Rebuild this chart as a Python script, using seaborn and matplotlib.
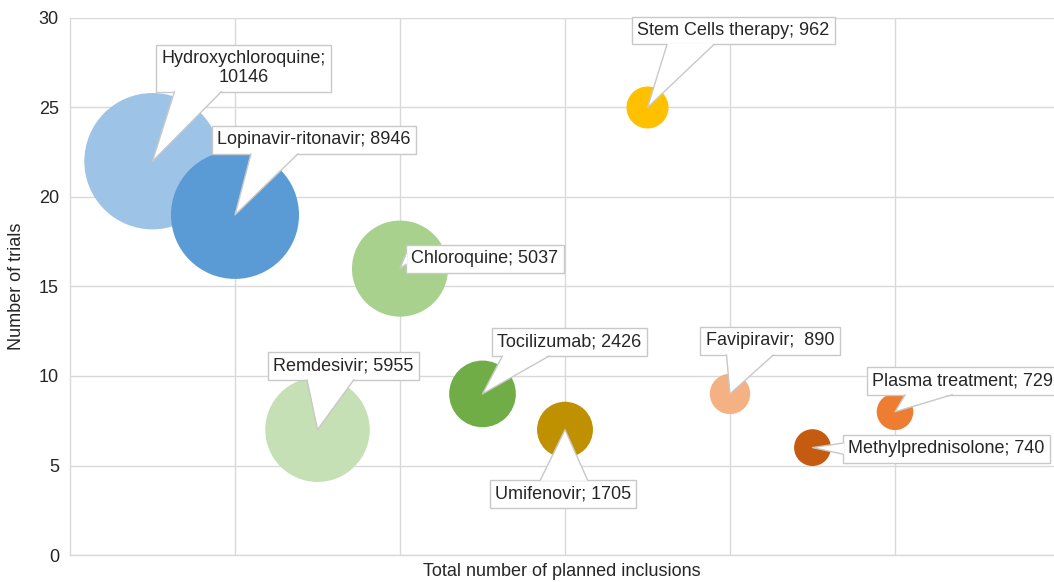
import matplotlib
matplotlib.use("Agg")
import matplotlib.pyplot as plt
from matplotlib.patches import Polygon
from matplotlib.lines import Line2D
import seaborn as sns
import pandas as pd

# values
drugs = ["Hydroxychloroquine", "Lopinavir-ritonavir", "Remdesivir", "Chloroquine",
         "Tocilizumab", "Umifenovir", "Stem Cells therapy", "Favipiravir",
         "Methylprednisolone", "Plasma treatment"]
position = [1, 2, 3, 4, 5, 6, 7, 8, 9, 10]
trials = [22, 19, 7, 16, 9, 7, 25, 9, 6, 8]
inclusions = [10146, 8946, 5955, 5037, 2426, 1705, 962, 890, 740, 729]
label_text = ["Hydroxychloroquine;\n10146", "Lopinavir-ritonavir; 8946", "Remdesivir; 5955",
              "Chloroquine; 5037", "Tocilizumab; 2426", "Umifenovir; 1705",
              "Stem Cells therapy; 962", "Favipiravir;  890", "Methylprednisolone; 740",
              "Plasma treatment; 729"]

colors = ["#9DC3E6", "#5B9BD5", "#C5E0B4", "#A9D18E", "#70AD47",
          "#BF9000", "#FFC000", "#F4B183", "#C55A11", "#ED7D31"]

# label placement (offset in pixels from the bubble, alignment)
offsets = [(91, 93), (79, 75), (26, 64), (85, 10), (87, 52),
           (-2, -64), (86, 77), (40, 53), (36, -1), (-23, 31)]
aligns = ["center"] * 8 + ["left", "left"]

TEXT = "#262626"
EDGE = "#C8C8C8"

df = pd.DataFrame({"drug": drugs, "x": position, "trials": trials, "n": inclusions})

sns.set_style("white")
plt.rcParams["font.family"] = ["Liberation Sans", "DejaVu Sans"]

fig = plt.figure(figsize=(10.54, 5.82), dpi=100)
ax = fig.add_axes([70 / 1054, 27 / 582, 1 - 70 / 1054, (555 - 18) / 582])

k = 0.95
sns.scatterplot(data=df, x="x", y="trials", hue="drug", size="n",
                palette=dict(zip(drugs, colors)),
                sizes=(min(inclusions) * k, max(inclusions) * k),
                linewidth=0, alpha=1, legend=False, ax=ax)

ax.set_xlim(0, 984 / 82.5)
ax.set_ylim(0, 30)
ax.set_xticks([2, 4, 6, 8, 10])
ax.set_xticklabels([])
ax.set_yticks([0, 5, 10, 15, 20, 25, 30])
ax.tick_params(axis="both", length=0, labelsize=13, labelcolor=TEXT, pad=8)
ax.grid(True, color="#D9D9D9", lw=1)
ax.set_axisbelow(True)
for side in ["top", "right"]:
    ax.spines[side].set_visible(False)
for side in ["left", "bottom"]:
    ax.spines[side].set_color("#D9D9D9")
    ax.spines[side].set_linewidth(1)

ax.set_xlabel("Total number of planned inclusions", fontsize=13, color=TEXT)
ax.xaxis.label.set_va("center")
ax.xaxis.set_label_coords(0.5, -16 / 537)
ax.set_ylabel("Number of trials", fontsize=13, color=TEXT, labelpad=10)

labels = []
for i in range(len(drugs)):
    dx, dy = offsets[i]
    t = ax.annotate(label_text[i], xy=(position[i], trials[i]),
                    xytext=(dx, dy), textcoords="offset pixels",
                    ha=aligns[i], va="center", fontsize=13, color=TEXT,
                    linespacing=1.15, zorder=4, annotation_clip=False,
                    bbox=dict(boxstyle="square,pad=0.3", fc="white", ec=EDGE, lw=1))
    labels.append(t)

# callout pointers: triangle from the label box edge to the bubble centre
fig.canvas.draw()
renderer = fig.canvas.get_renderer()
inv = ax.transData.inverted()
for i, t in enumerate(labels):
    bb = t.get_bbox_patch().get_window_extent(renderer)
    tx, ty = ax.transData.transform((position[i], trials[i]))
    if ty < bb.y0 or ty > bb.y1:
        edge_y = bb.y0 if ty < bb.y0 else bb.y1
        inset = 1 if ty < bb.y0 else -1
        w = min(47, 0.35 * bb.width)
        cx = (bb.x0 + bb.x1) / 2 * 0.5 + tx * 0.5
        cx = max(bb.x0 + w / 2 + 4, min(bb.x1 - w / 2 - 4, cx))
        b1, b2 = (cx - w / 2, edge_y), (cx + w / 2, edge_y)
        c1, c2 = (b1[0], edge_y + inset), (b2[0], edge_y + inset)
    else:
        edge_x = bb.x0 if tx < bb.x0 else bb.x1
        inset = 1 if tx < bb.x0 else -1
        w = 0.4 * bb.height
        cy = (bb.y0 + bb.y1) / 2
        b1, b2 = (edge_x, cy - w / 2), (edge_x, cy + w / 2)
        c1, c2 = (edge_x + inset, b1[1]), (edge_x + inset, b2[1])
    tri = inv.transform([c1, (tx, ty), c2])
    ax.add_patch(Polygon(tri, closed=True, fc="white", ec="none", zorder=5))
    side = inv.transform([b1, (tx, ty), b2])
    ax.add_line(Line2D(side[:, 0], side[:, 1], color=EDGE, lw=1, zorder=5))

fig.savefig("out.png", dpi=100)
